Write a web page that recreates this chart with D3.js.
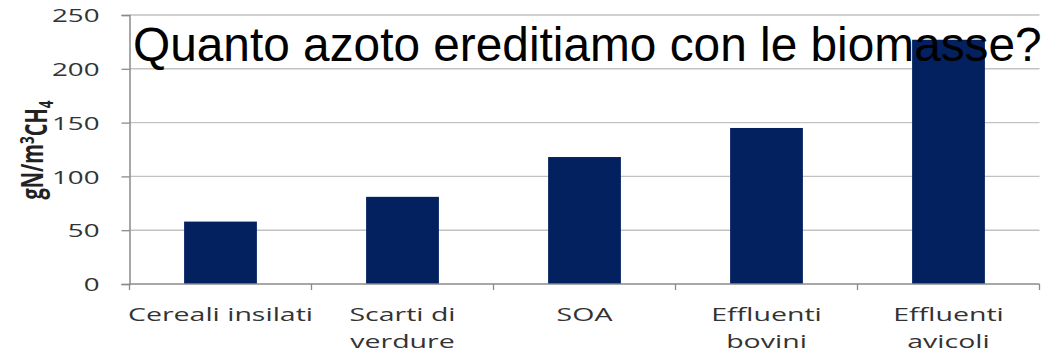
<!DOCTYPE html>
<html>
<head>
<meta charset="utf-8">
<script src="https://cdn.jsdelivr.net/npm/d3@7"></script>
<style>
  html, body { margin: 0; padding: 0; background: #fff; }
  svg { display: block; }
</style>
</head>
<body>
<svg id="chart" width="1057" height="355"></svg>
<script>
// Nitrogen carried into the digester per cubic metre of methane, by feedstock
const categories = ["Cereali insilati", "Scarti di\nverdure", "SOA", "Effluenti\nbovini", "Effluenti\navicoli"];
const values = [58, 81, 118, 145, 227];
const yTicks = [0, 50, 100, 150, 200, 250];
const titleText = "Quanto azoto ereditiamo con le biomasse?";

const W = 1057, H = 355;
const plot = { left: 129.5, right: 1039.5, top: 15, bottom: 284 };
const stretch = 1.5;           // labels are drawn horizontally widened
const labelFont = "'Open Sans', 'DejaVu Sans', sans-serif";

const svg = d3.select("#chart");

const x = d3.scaleBand()
  .domain(categories)
  .range([plot.left, plot.right])
  .paddingInner(0.6)
  .paddingOuter(0.3);

// same categories, no padding: used for the boundary ticks
const xStep = d3.scaleBand().domain(categories).range([plot.left, plot.right]).padding(0);

const y = d3.scaleLinear().domain([0, 250]).range([plot.bottom, plot.top]);

// horizontal gridlines
svg.append("g")
  .selectAll("line")
  .data(yTicks.filter(t => t > 0))
  .join("line")
  .attr("x1", plot.left).attr("x2", plot.right)
  .attr("y1", d => y(d)).attr("y2", d => y(d))
  .attr("stroke", "#c2c2c2")
  .attr("stroke-width", 1.4);

// bars
svg.append("g")
  .selectAll("rect")
  .data(values)
  .join("rect")
  .attr("x", (d, i) => x(categories[i]))
  .attr("width", x.bandwidth())
  .attr("y", d => y(d))
  .attr("height", d => y(0) - y(d))
  .attr("fill", "#03215f");

// y axis
const yAxis = svg.append("g")
  .attr("transform", `translate(${plot.left},0)`)
  .call(d3.axisLeft(y).tickValues(yTicks).tickSize(8).tickPadding(0).tickFormat(d3.format("d")));
yAxis.select(".domain").attr("stroke", "#8a8a8a").attr("stroke-width", 1.5);
yAxis.selectAll(".tick line").attr("stroke", "#8a8a8a").attr("stroke-width", 1.3);
yAxis.selectAll(".tick text")
  .attr("x", 0)
  .attr("dy", "0.36em")
  .attr("text-anchor", "end")
  .attr("transform", `translate(-30,0) scale(${stretch},1)`)
  .style("font-family", labelFont)
  .style("font-size", "18.5px")
  .attr("fill", "#333");

// x axis: baseline and ticks at category boundaries
const xAxis = svg.append("g");
xAxis.append("line")
  .attr("x1", plot.left).attr("x2", plot.right)
  .attr("y1", y(0)).attr("y2", y(0))
  .attr("stroke", "#8a8a8a").attr("stroke-width", 1.5);
const bounds = categories.map(c => xStep(c)).concat([xStep.range()[1]]);
xAxis.selectAll("line.tick")
  .data(bounds)
  .join("line")
  .attr("class", "tick")
  .attr("x1", d => d).attr("x2", d => d)
  .attr("y1", y(0)).attr("y2", y(0) + 6)
  .attr("stroke", "#8a8a8a").attr("stroke-width", 1.3);

// category labels, one or two lines each
const catLabels = xAxis.selectAll("g.cat")
  .data(categories)
  .join("g")
  .attr("class", "cat")
  .attr("transform", d => `translate(${x(d) + x.bandwidth() / 2},0) scale(${stretch},1)`);
catLabels.each(function(d) {
  const g = d3.select(this);
  d.split("\n").forEach((line, k) => {
    g.append("text")
      .attr("x", 0)
      .attr("y", 321.5 + k * 26.5)
      .attr("text-anchor", "middle")
      .style("font-family", labelFont)
      .style("font-size", "19px")
      .attr("fill", "#333")
      .text(line);
  });
});

// rotated unit label
const unit = svg.append("g")
  .attr("transform", `translate(43,150) scale(${stretch},1) rotate(-90)`)
  .append("text")
  .attr("text-anchor", "middle")
  .style("font-family", labelFont)
  .style("font-size", "20px")
  .style("font-weight", "bold")
  .attr("fill", "#222");
unit.append("tspan").text("gN/m");
unit.append("tspan").attr("dy", "-0.45em").style("font-size", "13.5px").text("3");
unit.append("tspan").attr("dy", "0.45em").text("CH");
unit.append("tspan").attr("dy", "0.3em").style("font-size", "13.5px").text("4");

// title laid over the plot
svg.append("text")
  .attr("x", 133)
  .attr("y", 61)
  .style("font-family", "'Liberation Sans', Arial, sans-serif")
  .style("font-size", "47.8px")
  .attr("fill", "#000")
  .text(titleText);
</script>
</body>
</html>
